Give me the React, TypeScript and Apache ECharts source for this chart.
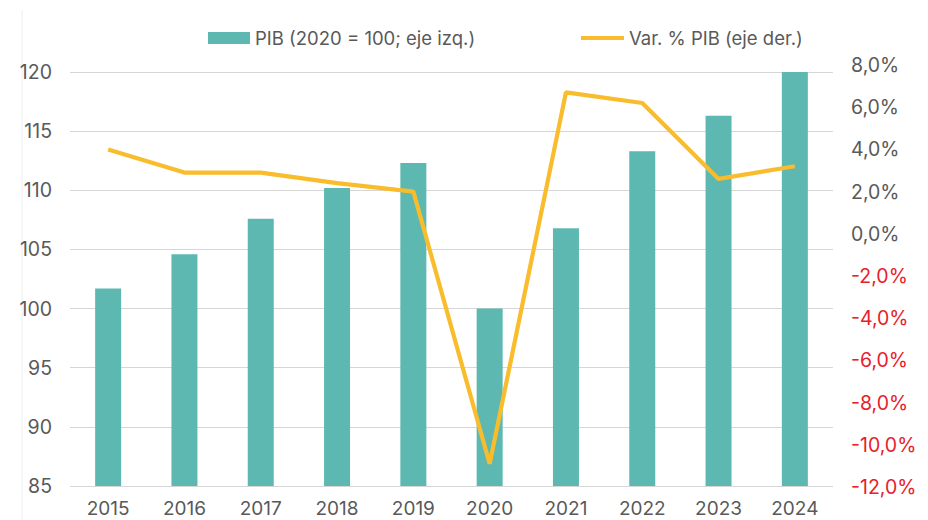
import React, { useEffect, useRef } from "react";
import * as echarts from "echarts";

const years = ["2015", "2016", "2017", "2018", "2019", "2020", "2021", "2022", "2023", "2024"];
const pibIndex = [101.7, 104.6, 107.6, 110.2, 112.3, 100.0, 106.8, 113.3, 116.3, 120.2];
const pibGrowth = [4.0, 2.9, 2.9, 2.4, 2.0, -10.9, 6.7, 6.2, 2.6, 3.2];
const barName = "PIB (2020 = 100; eje izq.)";
const lineName = "Var. % PIB (eje der.)";

const FONT = "Inter, Roboto, 'Noto Sans', sans-serif";
const GRAY = "#595959";
const RED = "#E8202A";
const TEAL = "#5CB8B0";
const GOLD = "#F9BC2C";

export default function App() {
  const ref = useRef<HTMLDivElement>(null);
  useEffect(() => {
    if (!ref.current) return;
    const chart = echarts.init(ref.current, undefined, { renderer: "svg" });
    chart.setOption({
      animation: false,
      backgroundColor: "#ffffff",
      textStyle: { fontFamily: FONT },
      legend: [
        {
          data: [barName],
          left: 208,
          top: 28,
          padding: 0,
          itemWidth: 42,
          itemHeight: 12,
          icon: "rect",
          textStyle: { fontSize: 18.5, color: GRAY, lineHeight: 20, fontFamily: FONT },
        },
        {
          data: [lineName],
          left: 581,
          top: 28,
          padding: 0,
          itemWidth: 43,
          itemHeight: 4,
          icon: "rect",
          textStyle: { fontSize: 18.5, color: GRAY, lineHeight: 20, fontFamily: FONT },
        },
      ],
      grid: [
        { left: 70, right: 95, top: 72, bottom: 34 },
        { left: 70, right: 95, top: 65, bottom: 33 },
      ],
      xAxis: [
        {
          type: "category",
          gridIndex: 0,
          data: years,
          axisLine: { show: false },
          axisTick: { show: false },
          axisLabel: { fontSize: 19, lineHeight: 19, color: GRAY, margin: 13, fontFamily: FONT },
        },
        {
          type: "category",
          gridIndex: 1,
          data: years,
          show: false,
        },
      ],
      yAxis: [
        {
          type: "value",
          gridIndex: 0,
          min: 85,
          max: 120,
          interval: 5,
          axisLine: { show: false },
          axisTick: { show: false },
          splitLine: { lineStyle: { color: "#d6d6d6", width: 1.2 } },
          axisLabel: { fontSize: 19.5, color: GRAY, margin: 18, fontFamily: FONT },
        },
        {
          type: "value",
          gridIndex: 1,
          position: "right",
          min: -12,
          max: 8,
          interval: 2,
          axisLine: { show: false },
          axisTick: { show: false },
          splitLine: { show: false },
          axisLabel: {
            fontSize: 19.5,
            margin: 18,
            fontFamily: FONT,
            color: (v: any) => (Number(v) < 0 ? RED : GRAY),
            formatter: (v: number) => v.toFixed(1).replace(".", ",") + "%",
          },
        },
      ],
      series: [
        {
          name: barName,
          type: "bar",
          xAxisIndex: 0,
          yAxisIndex: 0,
          data: pibIndex,
          barWidth: 26,
          itemStyle: { color: TEAL },
        },
        {
          name: lineName,
          type: "line",
          xAxisIndex: 1,
          yAxisIndex: 1,
          data: pibGrowth,
          showSymbol: false,
          symbol: "none",
          lineStyle: { color: GOLD, width: 4.2 },
          itemStyle: { color: GOLD },
          z: 5,
        },
      ],
      graphic: [
        {
          type: "line",
          shape: { x1: 22, y1: 10, x2: 22, y2: 520 },
          style: { stroke: "#eeeeee", lineWidth: 1 },
          silent: true,
        },
      ],
    });
    return () => chart.dispose();
  }, []);
  return (
    <div
      ref={ref}
      style={{ position: "fixed", left: 0, top: 0, width: 928, height: 520 }}
    />
  );
}
